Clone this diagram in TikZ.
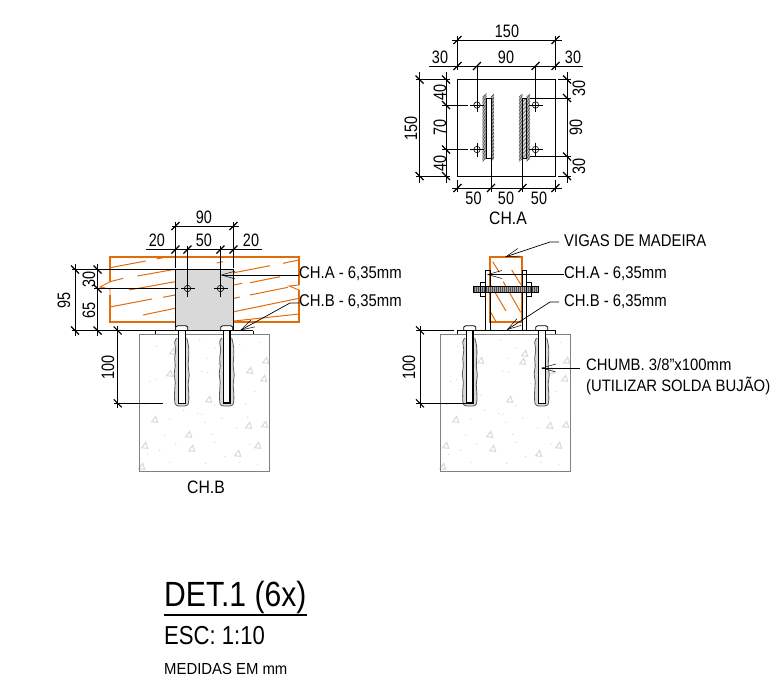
\documentclass[tikz,border=0pt]{standalone}
\usepackage{fontspec}
\setmainfont{Liberation Sans}
\usetikzlibrary{arrows.meta}
\definecolor{wood}{HTML}{E36C0A}
\definecolor{plategray}{HTML}{D9D9D9}
\definecolor{conc}{HTML}{808080}
\definecolor{speck}{HTML}{DADADA}
\newcommand\nm[1]{\scalebox{.8}[1]{#1}}
\newcommand\lb[1]{\scalebox{.875}[1]{#1}}
\tikzset{
  dim/.style={line width=.7pt,black},
  tk/.style={line width=1.1pt,black},
  num/.style={inner sep=0pt,font=\fontsize{18}{18}\selectfont,text=black},
  lbl/.style={inner sep=0pt,anchor=west,font=\fontsize{17}{17}\selectfont,text=black},
  grain/.style={wood,line width=1pt},
  lead/.style={line width=.7pt,black},
  openarrow/.style={-{Straight Barb[length=14pt,width=8pt,line width=.5pt]}},
  thin part/.style={line width=.7pt,black}
}
% ticks
\newcommand\tku[2]{\draw[tk] (#1-4,#2+4) -- (#1+4,#2-4);}
\newcommand\tkd[2]{\draw[tk] (#1-4,#2-4) -- (#1+4,#2+4);}
% concrete block at local origin
\newcommand\concrete[1]{%
\begin{scope}[shift={(#1,334.3)}]
  \foreach \a/\b in {33/17,40/26,30/39,15/85,49/100,52/114,5/111,98/119,118/111,109/91,110/36,124/44,126/26,69/65,84/19,82/27,2/132,125/90}{
    \draw[speck,line width=1pt] (\a-3,\b+2.5) -- (\a+3,\b+3) -- (\a+1,\b-3) -- cycle;}
  \foreach \a/\b in {17/12,60/6,75/14,100/10,120/8,16/45,10/47,62/37,68/38,67/24,90/49,115/57,106/70,58/79,62/80,30/85,44/76,65/88,97/94,108/83,36/110,20/116,85/122,100/128,30/128,25/101,82/84,72/100,75/108,118/130,66/129,6/70,8/120,40/61,75/71,110/110}{
    \fill[speck] (\a,\b) circle (.75);}
  \draw[conc,line width=1pt] (0,0) rectangle (129.6,136.7);
\end{scope}}
% grout-wrapped anchor: centre x, side line width
\newcommand\anchorbolt[2]{%
  \fill[speck,draw=black!65,line width=.8pt] plot[smooth,tension=.6] coordinates {
   (#1-5,338) (#1-7,342) (#1-6,350) (#1-7,358) (#1-6.5,366) (#1-7.5,374) (#1-6.5,382) (#1-7,390) (#1-7,401) (#1-5,405.5)
   (#1+5,405.5) (#1+7,401) (#1+7,392) (#1+6.5,384) (#1+7.5,375) (#1+6.5,366) (#1+7,356) (#1+7,348) (#1+6,342) (#1+5,338)};
  \fill[white] (#1-3.3,330) rectangle (#1+3.3,403.3);
  \draw[line width=#2] (#1-3.3,330) -- (#1-3.3,403.3) -- (#1+3.3,403.3) -- (#1+3.3,330);
  \draw[line width=.8pt,fill=white] (#1-6,330.5) -- (#1-6,327) -- (#1-4,325.7) -- (#1+4,325.7) -- (#1+6,327) -- (#1+6,330.5) -- cycle;
}
\begin{document}
\begin{tikzpicture}[x=1pt,y=-1pt]
\useasboundingbox (0,0) rectangle (777,689);
\fill[white] (0,0) rectangle (777,689);

%% ---------- CH.A plan ----------
\draw[thin part,line width=.9pt] (457.5,79.5) rectangle (555.5,176);
% weld hatching
\foreach \yy in {97,98.4,...,162}{
  \draw[black!80,line width=.45pt] (482.5,\yy) -- (486.5,\yy-3.5);
  \draw[black!80,line width=.45pt] (491,\yy) -- (494,\yy-3);
  \draw[black!80,line width=.45pt] (519,\yy) -- (522.5,\yy-3);
  \draw[black!80,line width=.45pt] (526.5,\yy) -- (530,\yy-3);
}
\fill[white] (486.5,98) rectangle (491,158);
\draw[line width=.9pt] (486.5,98) rectangle (491,158);
\fill[black!15] (522.5,98) rectangle (526.5,158);
\foreach \yy in {102,106,...,158}{\draw[black!70,line width=.4pt] (522.5,\yy) -- (526.5,\yy-4);}
\draw[line width=.9pt] (522.5,98) rectangle (526.5,158);
% holes
\foreach \hx/\hy in {477/105,535.5/105,477/149.5,535.5/149.5}{
  \draw[line width=.6pt] (\hx,\hy) circle (3.2);
  \draw[line width=.6pt] (\hx-7,\hy) -- (\hx+7,\hy) (\hx,\hy-7) -- (\hx,\hy+7);
}
% top dims
\draw[dim] (452,40) -- (562,40);
\tku{457.5}{40}\tku{555.5}{40}
\draw[dim] (429,66) -- (583,66);
\tku{457.5}{66}\tku{477}{66}\tku{535.5}{66}\tku{555.5}{66}
\draw[dim] (457.5,36) -- (457.5,70) (555.5,36) -- (555.5,70) (477,66) -- (477,98) (535.5,66) -- (535.5,98);
% left dims
\draw[dim] (419.5,72) -- (419.5,183) (446,72) -- (446,183);
\tkd{419.5}{79.5}\tkd{419.5}{176}\tkd{446}{79.5}\tkd{446}{105}\tkd{446}{149.5}\tkd{446}{176}
\draw[dim] (416,79.5) -- (450,79.5) (416,176) -- (450,176) (442,105) -- (468,105) (442,149.5) -- (468,149.5);
% right dims
\draw[dim] (567,72) -- (567,183);
\tkd{567}{79.5}\tkd{567}{98}\tkd{567}{156.5}\tkd{567}{176}
\draw[dim] (558,79.5) -- (571,79.5) (558,176) -- (571,176) (530,98) -- (571,98) (530,156.5) -- (571,156.5);
% bottom dims
\draw[dim] (452,188) -- (562,188);
\tku{457.5}{188}\tku{491}{188}\tku{522.5}{188}\tku{555.5}{188}
\draw[dim] (457.5,180) -- (457.5,192) (555.5,180) -- (555.5,192) (491,158) -- (491,192) (522.5,158) -- (522.5,192);
\node[num] (a150t) at (507,31) {\nm{150}};
\node[num] (a30l) at (440,57) {\nm{30}};
\node[num] (a90) at (506,57) {\nm{90}};
\node[num] (a30r) at (573,57) {\nm{30}};
\node[num,rotate=90] (a150l) at (411,128) {\nm{150}};
\node[num,rotate=90] (a40a) at (440,92) {\nm{40}};
\node[num,rotate=90] (a70) at (440,127.5) {\nm{70}};
\node[num,rotate=90] (a40b) at (440,163) {\nm{40}};
\node[num,rotate=90] (a30a) at (579,88.5) {\nm{30}};
\node[num,rotate=90] (a90r) at (576,127.5) {\nm{90}};
\node[num,rotate=90] (a30b) at (579,166.5) {\nm{30}};
\node[num] (a50a) at (473.5,198) {\nm{50}};
\node[num] (a50b) at (506,198) {\nm{50}};
\node[num] (a50c) at (539,198) {\nm{50}};
\node[num] (cha) at (508,218) {\lb{CH.A}};

%% ---------- Left elevation ----------
% grain
\foreach \xa/\ya/\xb/\yb in {
 110/267.7/145.7/261, 156.7/259/165/257.3,
 110/281.7/123.3/278.3, 137.3/276/175/269.3, 234/272.7/270/265.7, 283/263.3/299/260, 216.7/263/223/261.7,
 129/290/175/281.7, 234/285/242/283.3, 250/282.7/280/276.7,
 110/307/152/299, 163/297.3/175/295, 234/298.3/240/297, 250/295/288/287.3,
 143/315/175/308.3, 234/311.7/299/298.3, 234/321/299/314}{
  \draw[grain] (\xa,\ya) -- (\xb,\yb);}
\draw[wood,line width=1.7pt] (110,281.7) -- (110,257) -- (299,257) -- (299,285) (299,290) -- (299,322) -- (110,322) -- (110,295);
\draw[wood,line width=.9pt] (110,281.7) -- (100,287) -- (110,289) -- (110,295);
\draw[wood,line width=.9pt] (299,285) -- (289,286) -- (299,290);
\fill[plategray] (175.5,269.5) rectangle (233.5,330.5);
\draw[line width=1pt] (175.5,269.5) rectangle (233.5,330.5);
\concrete{139.7}
\draw[line width=.8pt] (155.7,334.3) -- (155.7,330.5) (253,330.5) -- (253,334.3);
\anchorbolt{181.7}{.9pt}
\anchorbolt{226.7}{1.7pt}
\foreach \hx in {187.5,220.5}{
  \draw[line width=.6pt] (\hx,288.5) circle (3.2);
  \draw[line width=.6pt] (\hx-7,288.5) -- (\hx+7,288.5);
}
\draw[dim] (172,226) -- (239,226);
\tku{175.5}{226}\tku{233.5}{226}
\draw[dim] (146,249.5) -- (262,249.5);
\tku{175.5}{249.5}\tku{187.5}{249.5}\tku{220.5}{249.5}\tku{233.5}{249.5}
\draw[dim] (175.5,222) -- (175.5,268) (233.5,222) -- (233.5,268) (187.5,246) -- (187.5,297) (220.5,246) -- (220.5,297);
\draw[dim] (75,264) -- (75,336) (97.5,264) -- (97.5,336);
\tkd{75}{269.5}\tkd{75}{330.5}\tkd{97.5}{269.5}\tkd{97.5}{288.5}\tkd{97.5}{330.5}
\draw[dim] (72,269.5) -- (175.5,269.5) (94,288.5) -- (178,288.5) (72,330.5) -- (253,330.5);
\draw[dim] (117.7,326) -- (117.7,408) (114,403.3) -- (163,403.3);
\tkd{117.7}{330.5}\tkd{117.7}{403.3}
\node[num] (b90) at (204,217) {\nm{90}};
\node[num] (b20l) at (157,240) {\nm{20}};
\node[num] (b50) at (204,240) {\nm{50}};
\node[num] (b20r) at (251,240) {\nm{20}};
\node[num,rotate=90] (b95) at (64,300) {\nm{95}};
\node[num,rotate=90] (b30) at (89,279) {\nm{30}};
\node[num,rotate=90] (b65) at (89,310) {\nm{65}};
\node[num,rotate=90] (b100) at (108,367) {\nm{100}};
\node[num] (chb) at (206,487) {\lb{CH.B}};
\node[lbl] (lcha) at (299,273.5) {\lb{CH.A - 6,35mm}};
\node[lbl] (lchb) at (299,301.5) {\lb{CH.B - 6,35mm}};
\coordinate (pa) at (220.5,275);
\coordinate (pbk) at (290,303);
\coordinate (pb) at (240,330.5);
\draw[lead,openarrow] (lcha.west) ++(0,1.5) -- (pa);
\draw[lead,openarrow] (lchb.west) ++(0,1.5) -- (pbk) -- (pb);

%% ---------- Right elevation ----------
\concrete{440.7}
\draw[line width=.8pt] (457.3,334.3) -- (457.3,330.3) -- (555,330.3) -- (555,334.3);
\anchorbolt{469.8}{1.7pt}
\anchorbolt{541.7}{.9pt}
\foreach \xa/\ya/\xb/\yb in {492.7/261.7/499.3/272.3, 511.7/270/520.7/284.3, 503.3/281.7/520.7/312.3, 490.7/285/506/311, 490.7/312.3/496/321.7}{
  \draw[wood,line width=1pt] (\xa,\ya) -- (\xb,\yb);}
\draw[wood,line width=1.7pt] (490,256.7) rectangle (522.3,321.7);
\draw[line width=.9pt] (485.7,270) rectangle (490,330.3);
\draw[line width=.9pt] (522.3,270) rectangle (526.7,330.3);
% threaded rod
\fill[black!35] (473.3,286.3) rectangle (538.3,292.7);
\foreach \xx in {474.5,476.5,...,538}{\draw[black!70,line width=.3pt] (\xx,286.3) -- (\xx,292.7);}
\draw[line width=.7pt] (473.3,286.3) rectangle (538.3,292.7);
\draw[line width=.7pt] (480,282.7) rectangle (485.7,296);
\draw[line width=.7pt] (526.7,282.7) rectangle (531.7,296);
\draw[dim] (420,326) -- (420,408) (416,330.3) -- (454,330.3) (416,403.3) -- (467,403.3);
\tkd{420}{330.3}\tkd{420}{403.3}
\node[num,rotate=90] (c100) at (409,367) {\nm{100}};
\node[lbl] (vig) at (564,240.5) {\lb{VIGAS DE MADEIRA}};
\node[lbl] (rcha) at (564,273.5) {\lb{CH.A - 6,35mm}};
\node[lbl] (rchb) at (564,301.5) {\lb{CH.B - 6,35mm}};
\node[lbl] (ch1) at (586,365) {\scalebox{.9}[1]{\fontsize{16.5}{16.5}\selectfont CHUMB. 3/8"x100mm}};
\node[lbl] (ch2) at (586,386) {\scalebox{.9}[1]{\fontsize{16.5}{16.5}\selectfont (UTILIZAR SOLDA BUJÃO)}};
\coordinate (kv) at (550,242);
\coordinate (pv) at (505,257);
\coordinate (pra) at (487,274.5);
\coordinate (krb) at (550,302);
\coordinate (prb) at (506.7,330);
\coordinate (pch) at (541,368);
\draw[lead,openarrow] (559,242) -- (kv) -- (pv);
\draw[lead,openarrow] (rcha.west) ++(0,1) -- (pra);
\draw[lead,openarrow] (559,302) -- (krb) -- (prb);
\draw[lead,openarrow] (580,368) -- (pch);

%% ---------- Title ----------
\node[inner sep=0pt,anchor=west] (title) at (164,597) {\scalebox{.86}[1]{\fontsize{35}{35}\selectfont DET.1 (6x)}};
\coordinate (ul) at (164,615);
\coordinate (ur) at (307,615);
\draw[line width=1.2pt] (ul) -- (ur);
\node[inner sep=0pt,anchor=west] (esc) at (164,636) {\scalebox{.85}[1]{\fontsize{26}{26}\selectfont ESC: 1:10}};
\node[inner sep=0pt,anchor=west] (med) at (164,669) {\scalebox{.93}[1]{\fontsize{16}{16}\selectfont MEDIDAS EM mm}};
\end{tikzpicture}
\end{document}
